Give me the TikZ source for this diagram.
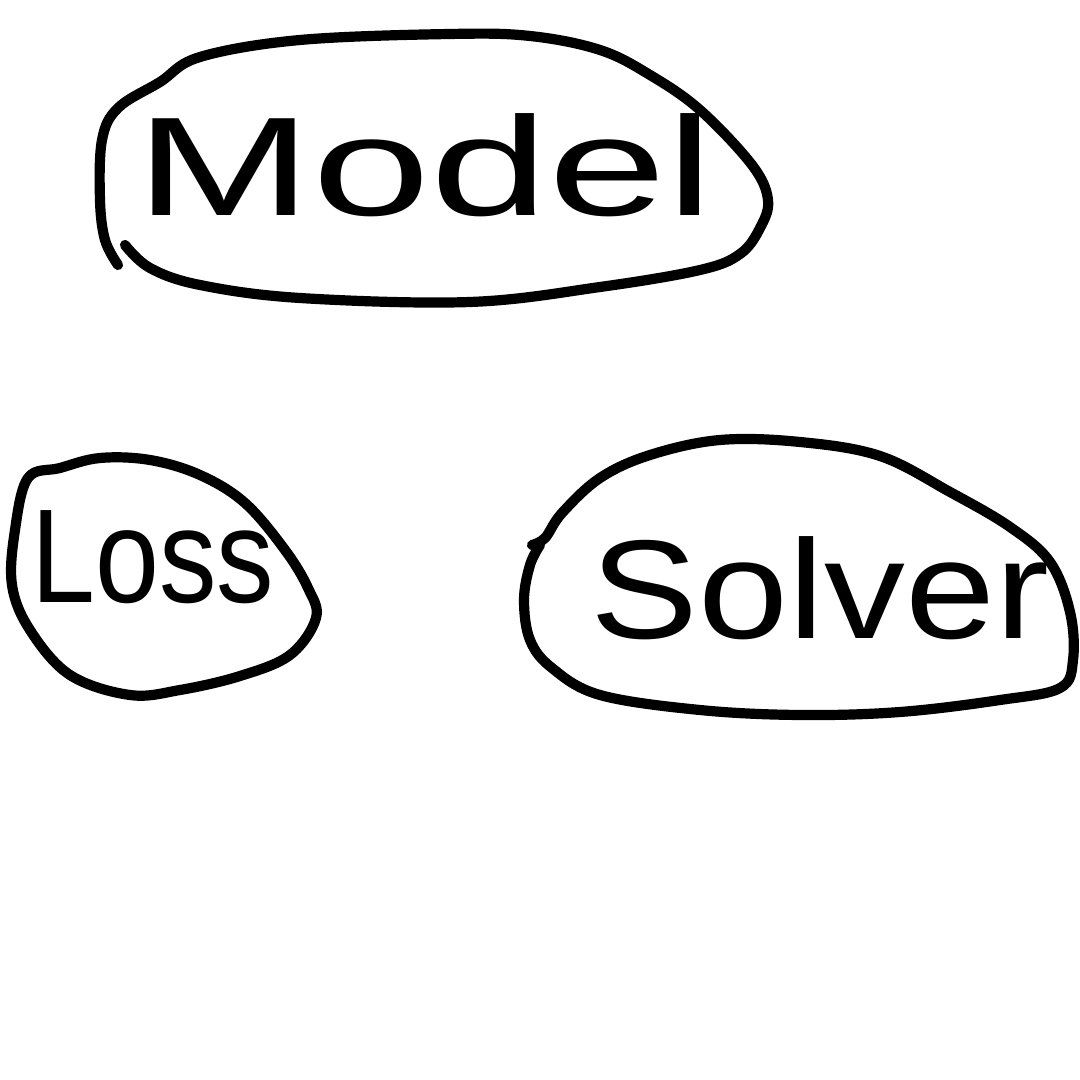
\documentclass[tikz,border=0pt]{standalone}
\usepackage{fontspec}
\setmainfont{Liberation Sans}
\begin{document}
\begin{tikzpicture}[x=0.01cm,y=-0.01cm,
  outline/.style={line width=2.9pt,line cap=round,line join=round},
  hand/.style={font=\fontsize{40}{40}\selectfont,inner sep=0pt}]
\fill[white] (0,0) rectangle (1080,1080);
\useasboundingbox (0,0) rectangle (1080,1080);
% Model
\draw[outline] plot[smooth,tension=0.6] coordinates {(125,245) (150,268) (200,285) (300,298) (470,302) (600,287) (700,270) (740,254) (760,228) (768,200) (752,165) (700,110) (650,75) (600,50) (530,36) (450,34) (300,40) (200,57) (160,82) (118,108) (102,140) (100,200) (105,240) (118,265)};
\node[hand,xscale=1.51] (model) at (425,165) {Model};
% Loss
\draw[outline] plot[smooth cycle,tension=0.6] coordinates {(28,478) (15,530) (12,585) (30,630) (70,675) (130,695) (180,690) (240,676) (290,655) (316,618) (308,588) (285,550) (245,503) (200,475) (150,460) (100,458) (60,468)};
\node[hand,font=\fontsize{38}{38}\selectfont,xscale=0.86] (loss) at (153,557) {Loss};
% Solver
\draw[outline] plot[smooth,tension=0.6] coordinates {(532,545) (545,538) (562,513) (600,478) (650,455) (720,440) (800,442) (880,456) (950,492) (1010,527) (1050,562) (1070,612) (1073,660) (1060,688) (1000,700) (900,712) (800,715) (700,710) (600,695) (552,668) (530,640) (524,600) (530,565) (540,545)};
\node[hand,xscale=1.15] (solver) at (820,588) {Solver};
\end{tikzpicture}
\end{document}
